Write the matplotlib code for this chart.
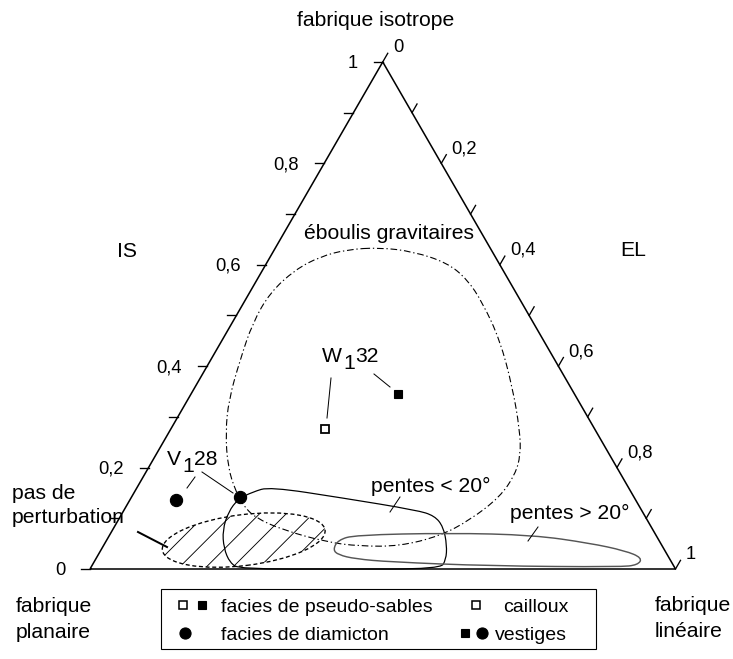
import numpy as np
import matplotlib
matplotlib.use('Agg')
import matplotlib.pyplot as plt
from matplotlib.path import Path
from matplotlib.patches import PathPatch, Ellipse, Rectangle

plt.rcParams['font.family'] = ['Liberation Sans', 'DejaVu Sans']
plt.rcParams['hatch.linewidth'] = 0.8

# ---------------- data (ternary: IS = isotropy, EL = elongation) ----------------
axis_ticks = [0.0, 0.1, 0.2, 0.3, 0.4, 0.5, 0.6, 0.7, 0.8, 0.9, 1.0]
label_values = [0.0, 0.2, 0.4, 0.6, 0.8, 1.0]
label_texts = ['0', '0,2', '0,4', '0,6', '0,8', '1']

# facies de pseudo-sables (W1 32): cailloux (open) / vestiges (filled)
sables_cailloux_is = [0.276]
sables_cailloux_el = [0.264]
sables_vestiges_is = [0.346]
sables_vestiges_el = [0.353]
# facies de diamicton (V1 28): vestiges
diamicton_is = [0.136, 0.142]
diamicton_el = [0.079, 0.185]

# envelope "éboulis gravitaires"
eboulis_is = [0.634, 0.626, 0.604, 0.571, 0.525, 0.452, 0.359, 0.274, 0.225, 0.186,
              0.142, 0.097, 0.065, 0.045, 0.045, 0.053, 0.077, 0.101, 0.126, 0.156,
              0.201, 0.269, 0.334, 0.413, 0.486, 0.545, 0.590, 0.616, 0.630]
eboulis_el = [0.178, 0.239, 0.308, 0.359, 0.408, 0.474, 0.542, 0.597, 0.623, 0.633,
              0.629, 0.601, 0.565, 0.506, 0.438, 0.378, 0.291, 0.232, 0.198, 0.170,
              0.135, 0.097, 0.070, 0.050, 0.035, 0.035, 0.055, 0.085, 0.124]

# envelope "pentes < 20°"
pentes_inf_is = [0.152, 0.162, 0.140, 0.116, 0.105, 0.083, 0.047, 0.018, 0.0, 0.0,
                 0.0, 0.012, 0.041, 0.077, 0.113, 0.138]
pentes_inf_el = [0.202, 0.226, 0.362, 0.500, 0.536, 0.562, 0.586, 0.599, 0.598, 0.427,
                 0.256, 0.233, 0.208, 0.188, 0.180, 0.184]

# envelope "pentes > 20°"
pentes_sup_is = [0.038, 0.057, 0.067, 0.071, 0.067, 0.051, 0.036, 0.022, 0.008, 0.004,
                 0.006, 0.014, 0.020, 0.028]
pentes_sup_el = [0.396, 0.395, 0.419, 0.579, 0.723, 0.828, 0.896, 0.932, 0.932, 0.903,
                 0.680, 0.505, 0.443, 0.410]

# envelope "pas de perturbation" (ellipse)
perturb_center_is = 0.057
perturb_center_el = 0.234
perturb_width = 0.280
perturb_height = 0.087
perturb_angle = 7

# ---------------- geometry ----------------
H = np.sqrt(3) / 2
S = 585.5          # pixels per data unit
DPI = 80
W_PX, H_PX = 733, 659


def tern(is_, el):
    is_ = np.asarray(is_, float)
    el = np.asarray(el, float)
    return el + is_ / 2, is_ * H


def P(xp, yp):
    """layout helper: figure pixel -> data coords"""
    return (xp - 90) / S, (569 - yp) / S


def smooth_closed(xs, ys):
    pts = np.column_stack([xs, ys])
    mids = (pts + np.roll(pts, -1, axis=0)) / 2
    verts = [mids[-1]]
    codes = [Path.MOVETO]
    for i in range(len(pts)):
        verts += [pts[i], mids[i]]
        codes += [Path.CURVE3, Path.CURVE3]
    return Path(verts, codes)


fig = plt.figure(figsize=(W_PX / DPI, H_PX / DPI), dpi=DPI)
ax = fig.add_axes([0, 0, 1, 1])
ax.set_xlim(-90 / S, (W_PX - 90) / S)
ax.set_ylim((569 - H_PX) / S, 569 / S)
ax.axis('off')

FS_LAB = 19
FS_TICK = 16.5
FS_LEG = 17.5

# triangle
ax.plot([0, 1, 0.5, 0], [0, 0, H, 0], color='black', lw=1.4, solid_capstyle='butt')

# left axis (IS)
for v in axis_ticks:
    x0, y0 = tern(v, 0)
    ax.plot([x0 - 9 / S, x0], [y0, y0], color='black', lw=1.2)
for v, t in zip(label_values, label_texts):
    x0, y0 = tern(v, 0)
    ax.text(x0 - 25 / S, y0 - 6 / S, t, ha='right', va='baseline', fontsize=FS_TICK)

# right axis (EL)
for v in axis_ticks:
    x0, y0 = tern(1 - v, v)
    ax.plot([x0, x0 + 10 / S * 0.5], [y0, y0 + 10 / S * H], color='black', lw=1.2)
for v, t in zip(label_values, label_texts):
    x0, y0 = tern(1 - v, v)
    ax.text(x0 + 10 / S, y0 + 10 / S, t, ha='left', va='baseline', fontsize=FS_TICK)

# envelopes
ex, ey = tern(eboulis_is, eboulis_el)
ax.add_patch(PathPatch(smooth_closed(ex, ey), fill=False, ec='black', lw=1.0,
                       ls=(0, (6, 2.5, 1.2, 2.5))))

ix, iy = tern(pentes_inf_is, pentes_inf_el)
ax.add_patch(PathPatch(smooth_closed(ix, iy), fill=False, ec='black', lw=1.1))

sx, sy = tern(pentes_sup_is, pentes_sup_el)
ax.add_patch(PathPatch(smooth_closed(sx, sy), fill=False, ec='#555555', lw=1.3))

cx, cy = tern(perturb_center_is, perturb_center_el)
ax.add_patch(Ellipse((cx, cy), perturb_width, perturb_height, angle=perturb_angle,
                     fill=False, ec='black', lw=0, hatch='/'))
ax.add_patch(Ellipse((cx, cy), perturb_width, perturb_height, angle=perturb_angle,
                     fill=False, ec='black', lw=1.2, ls=(0, (3, 2))))

# samples
x, y = tern(sables_cailloux_is, sables_cailloux_el)
ax.plot(x, y, 's', ms=7, mfc='white', mec='black', mew=1.6, zorder=5)
x, y = tern(sables_vestiges_is, sables_vestiges_el)
ax.plot(x, y, 's', ms=8, mfc='black', mec='black', zorder=5)
x, y = tern(diamicton_is, diamicton_el)
ax.plot(x, y, 'o', ms=11, mfc='black', mec='black', zorder=5)


# labels with subscript
def sublabel(xp, yp, a, sub, b):
    t1 = ax.text(*P(xp, yp), a, ha='left', va='baseline', fontsize=FS_LAB)
    t2 = ax.annotate(sub, xy=(1, 0), xycoords=t1, xytext=(1, -6),
                     textcoords='offset points', ha='left', va='bottom', fontsize=FS_LAB)
    ax.annotate(b, xy=(1, 0), xycoords=t2, xytext=(0, 6),
                textcoords='offset points', ha='left', va='bottom', fontsize=FS_LAB)


sublabel(322, 362, 'W', '1', '32')
sublabel(167, 465, 'V', '1', '28')


def leader(p1, p2, lw=0.9):
    a = P(*p1)
    b = P(*p2)
    ax.plot([a[0], b[0]], [a[1], b[1]], color='black', lw=lw)


leader((331, 378), (327, 418))
leader((374, 374), (390, 387))
leader((195, 477), (187, 488))
leader((202, 472), (233, 493))
leader((400, 497), (390, 512))
leader((538, 527), (528, 541))
leader((138, 532), (167, 547), lw=1.8)

ax.text(*P(389, 239), 'éboulis gravitaires', ha='center', va='baseline', fontsize=FS_LAB)
ax.text(*P(371, 492), 'pentes < 20°', ha='left', va='baseline', fontsize=FS_LAB)
ax.text(*P(510, 519), 'pentes > 20°', ha='left', va='baseline', fontsize=FS_LAB)
ax.text(*P(12, 499), 'pas de', ha='left', va='baseline', fontsize=FS_LAB)
ax.text(*P(12, 523), 'perturbation', ha='left', va='baseline', fontsize=FS_LAB)

ax.text(*P(376, 26), 'fabrique isotrope', ha='center', va='baseline', fontsize=FS_LAB)
ax.text(*P(127, 257), 'IS', ha='center', va='baseline', fontsize=FS_LAB)
ax.text(*P(633, 256), 'EL', ha='center', va='baseline', fontsize=FS_LAB)
ax.text(*P(16, 612), 'fabrique', ha='left', va='baseline', fontsize=FS_LAB)
ax.text(*P(16, 638), 'planaire', ha='left', va='baseline', fontsize=FS_LAB)
ax.text(*P(655, 611), 'fabrique', ha='left', va='baseline', fontsize=FS_LAB)
ax.text(*P(655, 637), 'linéaire', ha='left', va='baseline', fontsize=FS_LAB)

# legend box
lx0, ly0 = P(161, 649)
lx1, ly1 = P(596, 589)
ax.add_patch(Rectangle((lx0, ly0), lx1 - lx0, ly1 - ly0, fill=False, ec='black', lw=1.0))


def legmark(xp, yp, marker, filled, ms):
    ax.plot(*P(xp, yp), marker, ms=ms, mfc='black' if filled else 'white',
            mec='black', mew=1.4 if not filled else 1.0)


R1, R2 = 605, 633
legmark(183, R1, 's', False, 6.5)
legmark(202, R1, 's', True, 7.5)
ax.text(*P(221, R1 + 7), 'facies de pseudo-sables', ha='left', va='baseline', fontsize=FS_LEG)
legmark(476, R1, 's', False, 6.5)
ax.text(*P(503, R1 + 7), 'cailloux', ha='left', va='baseline', fontsize=FS_LEG)
legmark(185, R2, 'o', True, 10)
ax.text(*P(221, R2 + 7), 'facies de diamicton', ha='left', va='baseline', fontsize=FS_LEG)
legmark(465, R2, 's', True, 7.5)
legmark(482, R2, 'o', True, 10)
ax.text(*P(495, R2 + 7), 'vestiges', ha='left', va='baseline', fontsize=FS_LEG)

fig.savefig('out.png', dpi=DPI)
